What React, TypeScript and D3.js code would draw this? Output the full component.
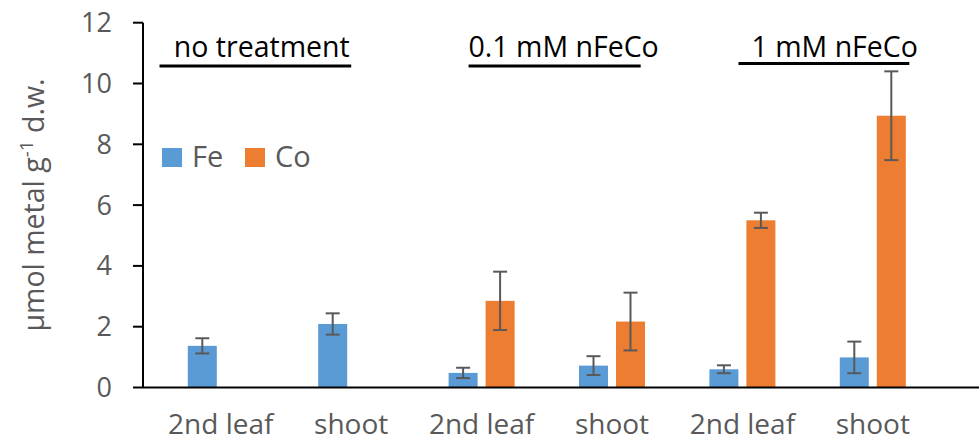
import { useRef, useEffect } from "react";
import * as d3 from "d3";

const categories = ["nt-leaf", "nt-shoot", "low-leaf", "low-shoot", "high-leaf", "high-shoot"];
const categoryLabels = ["2nd leaf", "shoot", "2nd leaf", "shoot", "2nd leaf", "shoot"];
const series = ["Fe", "Co"];
const feValues = [1.37, 2.09, 0.48, 0.72, 0.6, 0.99];
const feErrors = [0.25, 0.35, 0.17, 0.31, 0.13, 0.52];
const coValues = [0, 0, 2.85, 2.17, 5.5, 8.94];
const coErrors = [0, 0, 0.96, 0.95, 0.25, 1.46];
const yTicks = [0, 2, 4, 6, 8, 10, 12];

// treatment brackets, in category-index units
const groups = [
	{ label: "no treatment", from: -0.47, to: 1.0, textStart: -0.36 },
	{ label: "0.1 mM nFeCo", from: 1.9, to: 3.22, textStart: 1.9 },
	{ label: "1 mM nFeCo", from: 3.97, to: 5.28, textStart: 4.07 },
];

const colors = { Fe: "#5B9BD5", Co: "#ED7D31" };
const gray = "#595959";
const font = "'Open Sans', sans-serif";

const App = () => {
	const svgRef = useRef(null);

	useEffect(() => {
		const width = 979;
		const height = 442;
		const svg = d3.select(svgRef.current);
		svg.selectAll("*").remove();

		const axisX = 143;
		const y = d3.scaleLinear().domain([0, 12]).range([387.5, 22.7]);

		const x = d3.scaleBand().domain(categories).range([155.6, 938]).padding(0);
		const xSub = d3.scaleBand().domain(series).range([0, 66]).paddingInner(0.216);
		const groupOffset = (x.bandwidth() - 66) / 2;
		const xIdx = d3
			.scaleLinear()
			.domain([0, categories.length - 1])
			.range([x(categories[0]) + x.bandwidth() / 2, x(categories[5]) + x.bandwidth() / 2]);

		const rows = categories.map((c, i) => ({
			cat: c,
			label: categoryLabels[i],
			items: [
				{ key: "Fe", value: feValues[i], err: feErrors[i] },
				{ key: "Co", value: coValues[i], err: coErrors[i] },
			],
		}));

		// y axis ticks + labels
		const yg = svg.append("g");
		yg.selectAll("line.tick")
			.data(yTicks)
			.enter()
			.append("line")
			.attr("x1", axisX - 10)
			.attr("x2", axisX)
			.attr("y1", (d) => y(d))
			.attr("y2", (d) => y(d))
			.attr("stroke", "#000")
			.attr("stroke-width", 2);
		yg.selectAll("text")
			.data(yTicks)
			.enter()
			.append("text")
			.attr("x", 112)
			.attr("y", (d) => y(d))
			.attr("dy", "0.35em")
			.attr("text-anchor", "end")
			.style("font-family", font)
			.style("font-size", "27px")
			.attr("fill", gray)
			.text((d) => d);

		// bars
		const cat = svg
			.selectAll("g.cat")
			.data(rows)
			.enter()
			.append("g")
			.attr("class", "cat")
			.attr("transform", (d) => `translate(${x(d.cat) + groupOffset},0)`);

		cat.selectAll("rect")
			.data((d) => d.items)
			.enter()
			.append("rect")
			.attr("x", (d) => xSub(d.key))
			.attr("width", xSub.bandwidth())
			.attr("y", (d) => y(d.value))
			.attr("height", (d) => y(0) - y(d.value))
			.attr("fill", (d) => colors[d.key]);

		// error bars
		const eb = cat
			.selectAll("g.err")
			.data((d) => d.items.filter((it) => it.err > 0))
			.enter()
			.append("g")
			.attr("class", "err")
			.attr("transform", (d) => `translate(${xSub(d.key) + xSub.bandwidth() / 2},0)`);
		eb.append("line")
			.attr("y1", (d) => y(d.value + d.err))
			.attr("y2", (d) => y(d.value - d.err))
			.attr("stroke", gray)
			.attr("stroke-width", 2);
		eb.append("line")
			.attr("x1", -7)
			.attr("x2", 7)
			.attr("y1", (d) => y(d.value + d.err))
			.attr("y2", (d) => y(d.value + d.err))
			.attr("stroke", gray)
			.attr("stroke-width", 2);
		eb.append("line")
			.attr("x1", -7)
			.attr("x2", 7)
			.attr("y1", (d) => y(d.value - d.err))
			.attr("y2", (d) => y(d.value - d.err))
			.attr("stroke", gray)
			.attr("stroke-width", 2);

		// axes lines
		svg.append("line")
			.attr("x1", axisX)
			.attr("x2", axisX)
			.attr("y1", y(12))
			.attr("y2", y(0))
			.attr("stroke", "#000")
			.attr("stroke-width", 2);
		svg.append("line")
			.attr("x1", axisX)
			.attr("x2", width)
			.attr("y1", y(0))
			.attr("y2", y(0))
			.attr("stroke", "#000")
			.attr("stroke-width", 2);

		// category labels
		svg.selectAll("text.cat")
			.data(rows)
			.enter()
			.append("text")
			.attr("class", "cat")
			.attr("x", (d) => x(d.cat) + x.bandwidth() / 2)
			.attr("y", 434)
			.attr("text-anchor", "middle")
			.style("font-family", font)
			.style("font-size", "28px")
			.attr("fill", gray)
			.text((d) => d.label);

		// treatment brackets
		const gr = svg.selectAll("g.grp").data(groups).enter().append("g").attr("class", "grp");
		gr.append("text")
			.attr("x", (d) => xIdx(d.textStart))
			.attr("y", 57)
			.style("font-family", font)
			.style("font-size", "28.5px")
			.attr("fill", "#000")
			.text((d) => d.label);
		gr.append("line")
			.attr("x1", (d) => xIdx(d.from))
			.attr("x2", (d) => xIdx(d.to))
			.attr("y1", (d, i) => (i === 2 ? 63.5 : 66))
			.attr("y2", (d, i) => (i === 2 ? 63.5 : 66))
			.attr("stroke", "#000")
			.attr("stroke-width", 3);

		// legend
		const lg = svg
			.selectAll("g.leg")
			.data(series)
			.enter()
			.append("g")
			.attr("class", "leg")
			.attr("transform", (d, i) => `translate(${162 + i * 83},148)`);
		lg.append("rect").attr("width", 20).attr("height", 19).attr("fill", (d) => colors[d]);
		lg.append("text")
			.attr("x", 30)
			.attr("y", 19)
			.style("font-family", font)
			.style("font-size", "29px")
			.attr("fill", gray)
			.text((d) => d);

		// y title
		const yt = svg
			.append("text")
			.attr("transform", `translate(44,205) rotate(-90)`)
			.attr("text-anchor", "middle")
			.style("font-family", font)
			.style("font-size", "28.5px")
			.attr("fill", gray);
		yt.append("tspan").text("µmol metal g");
		yt.append("tspan").attr("dy", -11).style("font-size", "19px").text("-1");
		yt.append("tspan").attr("dy", 11).text(" d.w.");
		svg.attr("width", width).attr("height", height);
	}, []);

	return (
		<svg
			ref={svgRef}
			width={979}
			height={442}
			style={{ position: "absolute", left: 0, top: 0, background: "#fff" }}
		></svg>
	);
};

export default App;
